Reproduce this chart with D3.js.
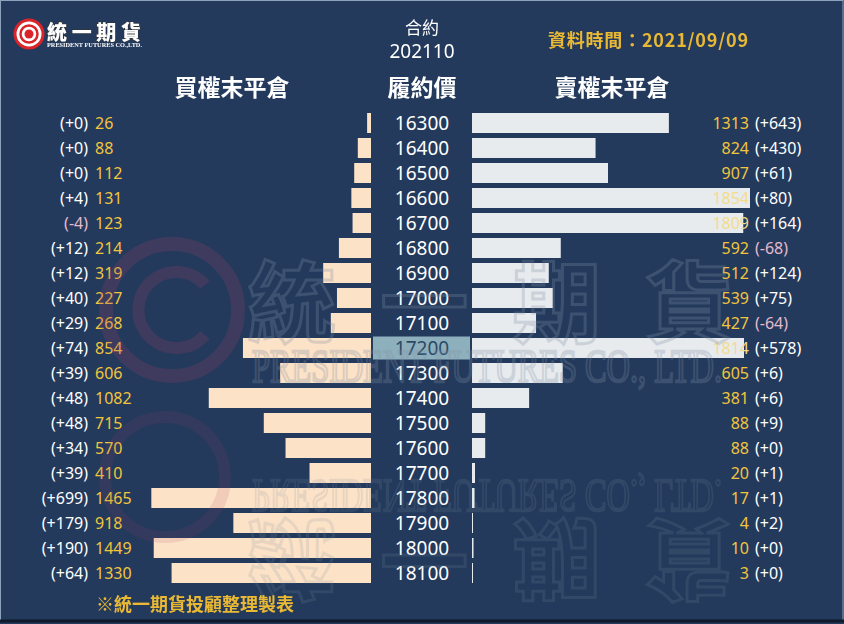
<!DOCTYPE html>
<html>
<head>
<meta charset="utf-8">
<script src="https://cdn.jsdelivr.net/npm/d3@7"></script>
<style>
  html, body { margin: 0; padding: 0; background: #233a5c; }
  svg { display: block; }
</style>
</head>
<body>
<svg id="chart"></svg>
<script>
// 202110 contract, open interest by strike
const strikes = [16300, 16400, 16500, 16600, 16700, 16800, 16900, 17000, 17100, 17200,
    17300, 17400, 17500, 17600, 17700, 17800, 17900, 18000, 18100];
const callOI = [26, 88, 112, 131, 123, 214, 319, 227, 268, 854,
    606, 1082, 715, 570, 410, 1465, 918, 1449, 1330];
const callChange = [0, 0, 0, 4, -4, 12, 12, 40, 29, 74,
    39, 48, 48, 34, 39, 699, 179, 190, 64];
const putOI = [1313, 824, 907, 1854, 1809, 592, 512, 539, 427, 1814,
    605, 381, 88, 88, 20, 17, 4, 10, 3];
const putChange = [643, 430, 61, 80, 164, -68, 124, 75, -64, 578,
    6, 6, 9, 0, 1, 1, 2, 0, 0];
const atTheMoney = 17200;

const width = 844, height = 624;
const bg = "#233a5c";
const gold = "#f2c53d";
const numFont = "'Noto Sans', 'DejaVu Sans', sans-serif";
const cjkFont = "'Noto Sans CJK TC', 'Noto Sans CJK SC', sans-serif";

const svg = d3.select("#chart")
    .attr("width", width)
    .attr("height", height);

svg.append("rect")
    .attr("width", width).attr("height", height)
    .attr("fill", bg);

// ---- scales
const y = d3.scaleBand()
    .domain(strikes)
    .range([110.5, 585.5])
    .paddingInner(0.2)
    .paddingOuter(0.1);

const maxOI = d3.max(callOI.concat(putOI));
const len = d3.scaleLinear().domain([0, maxOI]).range([0, 278]);

const callEdge = 371;   // right edge of call bars
const putEdge = 472;    // left edge of put bars
const mid = 422;

const rows = strikes.map((s, i) => ({
    strike: s, call: callOI[i], callChg: callChange[i], put: putOI[i], putChg: putChange[i]
}));

const fmtChg = (v) => `(${v >= 0 ? "+" : ""}${v})`;
const chgColor = (v) => v < 0 ? "#e7b9cc" : "#ffffff";

// highlight cell for at-the-money strike
svg.append("rect")
    .attr("x", 373).attr("width", 97)
    .attr("y", y(atTheMoney) - 1.5).attr("height", y.bandwidth() + 3)
    .attr("fill", "#8eb0bd");

// call bars
svg.append("g").selectAll("rect")
    .data(rows)
    .join("rect")
    .attr("x", (d) => callEdge - len(d.call))
    .attr("y", (d) => y(d.strike))
    .attr("width", (d) => len(d.call))
    .attr("height", y.bandwidth())
    .attr("fill", "#fce2c6");

// put bars
svg.append("g").selectAll("rect")
    .data(rows)
    .join("rect")
    .attr("x", putEdge)
    .attr("y", (d) => y(d.strike))
    .attr("width", (d) => Math.max(1, len(d.put)))
    .attr("height", y.bandwidth())
    .attr("fill", "#e8ebee");

const cy = (d) => y(d.strike) + y.bandwidth() / 2;

// strike labels
svg.append("g").selectAll("text")
    .data(rows)
    .join("text")
    .attr("x", mid).attr("y", cy).attr("dy", "0.36em")
    .attr("text-anchor", "middle")
    .attr("font-family", numFont).attr("font-size", 19)
    .attr("fill", (d) => d.strike === atTheMoney ? "#2a4a66" : "#ffffff")
    .text((d) => d.strike);

// left side labels
const left = svg.append("g")
    .attr("font-family", numFont).attr("font-size", 16);
left.selectAll(".chg")
    .data(rows)
    .join("text")
    .attr("class", "chg")
    .attr("x", 88).attr("y", cy).attr("dy", "0.36em")
    .attr("text-anchor", "end")
    .attr("fill", (d) => chgColor(d.callChg))
    .text((d) => fmtChg(d.callChg));
left.selectAll(".oi")
    .data(rows)
    .join("text")
    .attr("class", "oi")
    .attr("x", 95).attr("y", cy).attr("dy", "0.36em")
    .attr("fill", gold)
    .text((d) => d.call);

// right side labels
const right = svg.append("g")
    .attr("font-family", numFont).attr("font-size", 16);
right.selectAll(".oi")
    .data(rows)
    .join("text")
    .attr("class", "oi")
    .attr("x", 749).attr("y", cy).attr("dy", "0.36em")
    .attr("text-anchor", "end")
    .attr("fill", (d) => len(d.put) + putEdge > 715 ? "#f3dc8c" : gold)
    .text((d) => d.put);
right.selectAll(".chg")
    .data(rows)
    .join("text")
    .attr("class", "chg")
    .attr("x", 755).attr("y", cy).attr("dy", "0.36em")
    .attr("fill", (d) => chgColor(d.putChg))
    .text((d) => fmtChg(d.putChg));

// ---- watermark, a faint overlay across bars and labels
const wm = svg.append("g").attr("pointer-events", "none");
const wmTop = wm.append("g");
wmTop.append("circle")
    .attr("cx", 172).attr("cy", 310).attr("r", 66)
    .attr("fill", "none").attr("stroke", "#a0406a").attr("stroke-width", 14).attr("opacity", 0.22);
wmTop.append("path")
    .attr("d", "M205,285 A38,38 0 1,0 205,335")
    .attr("fill", "none").attr("stroke", "#a0406a").attr("stroke-width", 12).attr("opacity", 0.22);
wmTop.append("text")
    .attr("x", 248).attr("y", 335)
    .attr("textLength", 485).attr("lengthAdjust", "spacing")
    .attr("font-family", cjkFont).attr("font-size", 88).attr("font-weight", 700)
    .attr("fill", "none").attr("stroke", "#8290a6").attr("stroke-width", 3).attr("opacity", 0.28)
    .text("統一期貨");
wmTop.append("text")
    .attr("x", 252).attr("y", 382)
    .attr("textLength", 470).attr("lengthAdjust", "spacingAndGlyphs")
    .attr("font-family", "'Liberation Serif', serif").attr("font-size", 46)
    .attr("fill", "none").attr("stroke", "#8290a6").attr("stroke-width", 2.5).attr("opacity", 0.28)
    .text("PRESIDENT FUTURES CO., LTD.");
// reflection
const wmFlip = wm.append("g")
    .attr("transform", "translate(0, 862) scale(1,-1)")
    .attr("opacity", 0.6);
wmFlip.append("circle")
    .attr("cx", 165).attr("cy", 385).attr("r", 60)
    .attr("fill", "none").attr("stroke", "#a0406a").attr("stroke-width", 12).attr("opacity", 0.22);
wmFlip.append("text")
    .attr("x", 252).attr("y", 382)
    .attr("textLength", 470).attr("lengthAdjust", "spacingAndGlyphs")
    .attr("font-family", "'Liberation Serif', serif").attr("font-size", 46)
    .attr("fill", "none").attr("stroke", "#8290a6").attr("stroke-width", 2.5).attr("opacity", 0.28)
    .text("PRESIDENT FUTURES CO., LTD.");
wmFlip.append("text")
    .attr("x", 248).attr("y", 335)
    .attr("textLength", 485).attr("lengthAdjust", "spacing")
    .attr("font-family", cjkFont).attr("font-size", 88).attr("font-weight", 700)
    .attr("fill", "none").attr("stroke", "#8290a6").attr("stroke-width", 3).attr("opacity", 0.28)
    .text("統一期貨");

// ---- headers
const head = svg.append("g").attr("fill", "#ffffff");
head.append("text")
    .attr("x", mid).attr("y", 34).attr("text-anchor", "middle")
    .attr("font-family", cjkFont).attr("font-size", 17)
    .text("合約");
head.append("text")
    .attr("x", mid).attr("y", 58).attr("text-anchor", "middle")
    .attr("font-family", numFont).attr("font-size", 19)
    .text("202110");
head.selectAll(".col")
    .data([{ x: 232, t: "買權末平倉" }, { x: mid, t: "履約價" }, { x: 612, t: "賣權末平倉" }])
    .join("text")
    .attr("class", "col")
    .attr("x", (d) => d.x).attr("y", 96).attr("text-anchor", "middle")
    .attr("font-family", cjkFont).attr("font-size", 23).attr("font-weight", 700)
    .text((d) => d.t);

svg.append("text")
    .attr("x", 548).attr("y", 47)
    .attr("textLength", 200).attr("lengthAdjust", "spacing")
    .attr("font-family", cjkFont).attr("font-size", 18).attr("font-weight", 700)
    .attr("fill", "#eab934")
    .text("資料時間：2021/09/09");

svg.append("text")
    .attr("x", 96).attr("y", 611)
    .attr("font-family", cjkFont).attr("font-size", 18).attr("font-weight", 700)
    .attr("fill", "#eab934")
    .text("※統一期貨投顧整理製表");

// ---- company logo (top-left)
const logo = svg.append("g");
logo.append("circle").attr("cx", 29).attr("cy", 34).attr("r", 14)
    .attr("fill", "#ffffff").attr("stroke", "#d9252a").attr("stroke-width", 3);
logo.append("circle").attr("cx", 29).attr("cy", 34).attr("r", 8.5)
    .attr("fill", "none").attr("stroke", "#d9252a").attr("stroke-width", 2.5);
logo.append("circle").attr("cx", 29).attr("cy", 34).attr("r", 4.5)
    .attr("fill", "#d9252a");
logo.append("text")
    .attr("x", 47).attr("y", 40)
    .attr("textLength", 94).attr("lengthAdjust", "spacing")
    .attr("font-family", cjkFont).attr("font-size", 20).attr("font-weight", 900)
    .attr("fill", "#ffffff").attr("stroke", "#333333").attr("stroke-width", 1)
    .attr("paint-order", "stroke")
    .text("統一期貨");
logo.append("text")
    .attr("x", 47).attr("y", 47)
    .attr("textLength", 95).attr("lengthAdjust", "spacingAndGlyphs")
    .attr("font-family", "'Liberation Serif', serif").attr("font-size", 6).attr("font-weight", 700)
    .attr("fill", "#ffffff")
    .text("PRESIDENT FUTURES CO.,LTD.");

// frame
svg.append("rect")
    .attr("x", 0.5).attr("y", 0.5).attr("width", width - 1.5).attr("height", height - 4)
    .attr("fill", "none").attr("stroke", "#8ea2bd").attr("stroke-width", 1);
svg.append("line")
    .attr("x1", 0).attr("x2", width).attr("y1", height - 3).attr("y2", height - 3)
    .attr("stroke", "#0f1a2a").attr("stroke-width", 3);
</script>
</body>
</html>
